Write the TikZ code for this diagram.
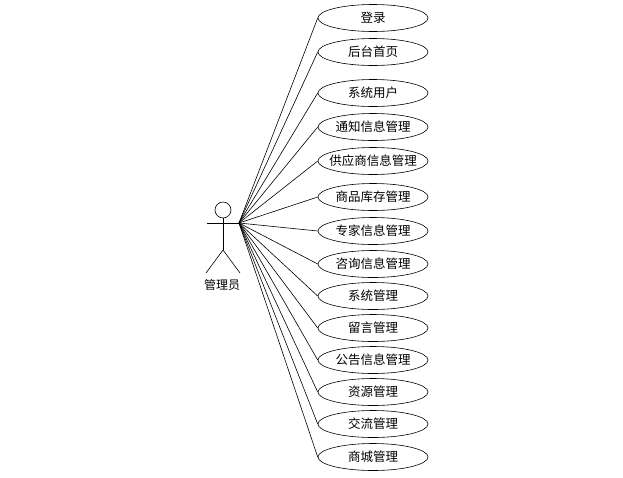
\documentclass[tikz,border=0pt]{standalone}
\usepackage{fontspec}
\newfontfamily\cjk{Noto Sans CJK SC}
\usetikzlibrary{shapes.geometric}
\tikzset{
  uctext/.style={font=\cjk\fontsize{12.5}{13}\selectfont, inner sep=0pt},
  uc/.style    ={draw, ellipse, minimum width=110pt, minimum height=27pt,
                 inner sep=0pt, line width=0.6pt,
                 label={[uctext]center:#1}},
  assoc/.style ={line width=0.6pt},
  stick/.style ={line width=0.6pt},
  actlbl/.style={font=\cjk\fontsize{12}{13}\selectfont},
}
\begin{document}
\begin{tikzpicture}[x=1pt, y=1pt]
  \useasboundingbox[fill=white] (0,0) rectangle (623,-477);
  % actor
  \draw[stick] (223,-210) circle[radius=8];
  \draw[stick] (223,-218) -- (223,-250);
  \draw[stick] (207,-223) -- (239,-223);
  \draw[stick] (206,-273) -- (223,-250) -- (240,-273);
  \coordinate (hand) at (239,-223);
  \node[actlbl] (admin) at (222,-285) {管理员};
  % use cases
  \node[uc=登录]           (u1)  at (373,-18)  {};
  \node[uc=后台首页]       (u2)  at (373,-52)  {};
  \node[uc=系统用户]       (u3)  at (373,-93)  {};
  \node[uc=通知信息管理]   (u4)  at (373,-127) {};
  \node[uc=供应商信息管理] (u5)  at (373,-161) {};
  \node[uc=商品库存管理]   (u6)  at (373,-197) {};
  \node[uc=专家信息管理]   (u7)  at (373,-231) {};
  \node[uc=咨询信息管理]   (u8)  at (373,-264) {};
  \node[uc=系统管理]       (u9)  at (373,-296) {};
  \node[uc=留言管理]       (u10) at (373,-328) {};
  \node[uc=公告信息管理]   (u11) at (373,-360) {};
  \node[uc=资源管理]       (u12) at (373,-392) {};
  \node[uc=交流管理]       (u13) at (373,-424) {};
  \node[uc=商城管理]       (u14) at (373,-457) {};
  \foreach \i in {1,...,14}
    \draw[assoc] (hand) -- (u\i.west);
\end{tikzpicture}
\end{document}
